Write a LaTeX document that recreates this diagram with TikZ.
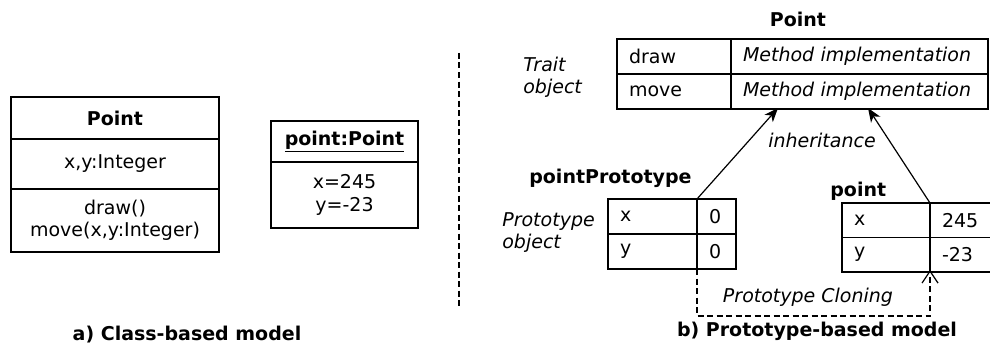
\documentclass[tikz,border=0pt]{standalone}
\usepackage{fontspec}
\setmainfont{DejaVu Sans}
\usetikzlibrary{arrows.meta}
\begin{document}
\begin{tikzpicture}[x=1pt,y=-1pt,
  every node/.style={font=\fontsize{19}{22.5}\selectfont, outer sep=0pt},
  comp/.style={draw, line width=1.2pt, anchor=north west, align=center, inner sep=0pt},
  cell/.style={draw, line width=1.2pt, anchor=north west, inner xsep=12pt, inner ysep=0pt, text width=#1, align=left},
  outerbox/.style={line width=2pt},
  inh/.style={line width=1.2pt, -{Stealth[length=14pt,width=11pt,inset=4pt]}},
  clone/.style={line width=1.2pt, dash pattern=on 6pt off 3.5pt, -{Straight Barb[length=12pt,width=16pt]}, shorten >=-2pt},
  sep/.style={line width=1.2pt, dash pattern=on 6pt off 3.5pt},
  lbl/.style={font=\fontsize{19}{22.5}\selectfont\itshape, align=left}
]
\useasboundingbox (0,0) rectangle (990,345);

% ---------- a) class-based ----------
\node[comp, minimum width=208pt, minimum height=42pt] (cname) at (11,97) {\textbf{Point}};
\node[comp, minimum width=208pt, minimum height=50pt] (cattr) at (cname.south west) {x,y:Integer};
\node[comp, minimum width=208pt, minimum height=63pt] (cops) at (cattr.south west) {draw()\\move(x,y:Integer)};
\draw[outerbox] (cname.north west) rectangle (cops.south east);

\node[comp, minimum width=147pt, minimum height=41pt] (oname) at (271,121) {\textbf{\underline{point:Point}}};
\node[comp, minimum width=147pt, minimum height=66pt] (ovals) at (oname.south west) {x=245\\y=-23};
\draw[outerbox] (oname.north west) rectangle (ovals.south east);

\node[font=\fontsize{19}{22.5}\selectfont\bfseries] (alabel) at (187,335) {a) Class-based model};

% ---------- separator ----------
\coordinate (vtop) at (459,53);
\coordinate (vbot) at (459,308);
\draw[sep] (vtop) -- (vbot);

% ---------- b) prototype-based ----------
\node[font=\fontsize{19}{22.5}\selectfont\bfseries] (ptitle) at (798,19.5) {Point};
\node[cell=90pt, minimum height=35pt] (t11) at (617,39) {draw};
\node[cell=233pt, minimum height=35pt] (t12) at (t11.north east) {\itshape Method implementation};
\node[cell=90pt, minimum height=35pt] (t21) at (t11.south west) {move};
\node[cell=233pt, minimum height=35pt] (t22) at (t21.north east) {\itshape Method implementation};
\draw[outerbox] (t11.north west) rectangle (t22.south east);
\node[lbl, anchor=west] (trait) at (520,77.5) {Trait\\object};

\node[font=\fontsize{19}{22.5}\selectfont\bfseries, anchor=west] (ppname) at (526,178) {pointPrototype};
\node[cell=65pt, minimum height=35pt] (p11) at (608,199) {x};
\node[cell=15pt, minimum height=35pt] (p12) at (p11.north east) {0};
\node[cell=65pt, minimum height=35pt] (p21) at (p11.south west) {y};
\node[cell=15pt, minimum height=35pt] (p22) at (p21.north east) {0};
\draw[outerbox] (p11.north west) rectangle (p22.south east);
\node[lbl, anchor=west] (protolbl) at (499,232.5) {Prototype\\object};

\node[font=\fontsize{19}{22.5}\selectfont\bfseries, anchor=west] (qname) at (827,191) {point};
\node[cell=64pt, minimum height=34.5pt] (q11) at (842,203) {x};
\node[cell=41pt, minimum height=34.5pt] (q12) at (q11.north east) {245};
\node[cell=64pt, minimum height=34.5pt] (q21) at (q11.south west) {y};
\node[cell=41pt, minimum height=34.5pt] (q22) at (q21.north east) {-23};
\draw[outerbox] (q11.north west) rectangle (q22.south east);

\coordinate (ha) at (778,108);
\coordinate (hb) at (868,108);
\draw[inh] (p12.north west) -- (ha);
\draw[inh] (q12.north west) -- (hb);
\node[lbl] (inhlbl) at (822,140) {inheritance};

\draw[clone] (p22.south west) -- ++(0,47) -| (q22.south west);
\node[lbl] (clonelbl) at (808,297) {Prototype Cloning};

\node[font=\fontsize{19}{22.5}\selectfont\bfseries] (blabel) at (817,331) {b) Prototype-based model};
\end{tikzpicture}
\end{document}
